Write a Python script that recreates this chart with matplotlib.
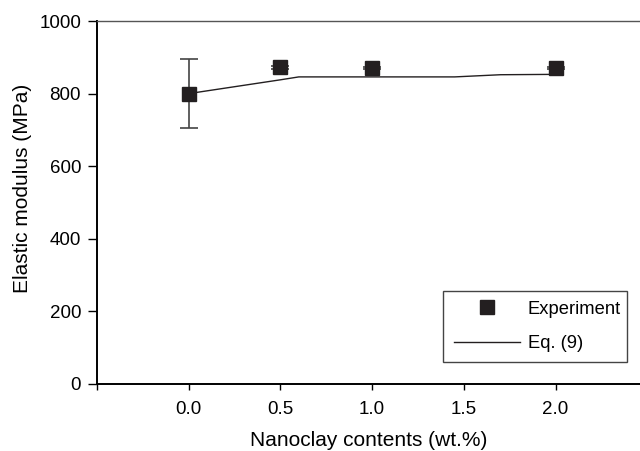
import matplotlib
matplotlib.use("Agg")
import matplotlib.pyplot as plt

plt.rcParams["font.family"] = ["Liberation Sans", "DejaVu Sans"]

# experiment
nanoclay = [0.0, 0.5, 1.0, 2.0]
modulus = [800, 872, 870, 870]
modulus_err = [94, 3, 3, 3]

# Eq. (9) curve
eq_x = [0.0, 0.5, 0.6, 1.0, 1.45, 1.7, 2.0]
eq_y = [800, 838, 846, 846, 846, 852, 853]

x_ticks = [-0.5, 0.0, 0.5, 1.0, 1.5, 2.0]
x_ticklabels = ["", "0.0", "0.5", "1.0", "1.5", "2.0"]
y_ticks = [0, 200, 400, 600, 800, 1000]

dark = "#231f20"

fig = plt.figure(figsize=(6.4, 4.51), dpi=100)
ax = fig.add_axes([97 / 640, 67 / 451, 543 / 640, 363 / 451])

ax.plot(eq_x, eq_y, color=dark, lw=1.0, label="Eq. (9)", zorder=2)
ax.errorbar(nanoclay, modulus, yerr=modulus_err, fmt="none", ecolor="#444444",
            elinewidth=1.2, capsize=6.5, capthick=1.2, zorder=3)
ax.plot(nanoclay, modulus, ls="none", marker="s", ms=10, color=dark,
        label="Experiment", zorder=4)

ax.set_xlim(-0.5, 2.46)
ax.set_ylim(0, 1000)
ax.set_xticks(x_ticks)
ax.set_xticklabels(x_ticklabels)
ax.set_yticks(y_ticks)
ax.tick_params(axis="both", labelsize=13.5, colors="black", width=1.0)
ax.tick_params(axis="y", length=6.5, pad=5)
ax.tick_params(axis="x", length=4.5, pad=8)

ax.spines["right"].set_visible(False)
ax.spines["left"].set_linewidth(1.4)
ax.spines["bottom"].set_linewidth(1.4)
ax.spines["top"].set_linewidth(1.0)
ax.spines["top"].set_color("#555555")

ax.set_xlabel("Nanoclay contents (wt.%)", fontsize=15, labelpad=9)
ax.set_ylabel("Elastic modulus (MPa)", fontsize=15)
ax.yaxis.set_label_coords(-0.12, 0.54)

handles, labels = ax.get_legend_handles_labels()
leg = ax.legend(handles[::-1], labels[::-1], loc="lower left",
                bbox_to_anchor=(0.638, 0.06, 0.338, 0.19), mode="expand",
                borderaxespad=0, fontsize=13.2, handlelength=3.6,
                handletextpad=0.45, labelspacing=0.95, borderpad=0.55,
                fancybox=False, edgecolor="#444444", framealpha=1)
leg.get_frame().set_linewidth(1.0)

fig.savefig("out.png", dpi=100)
